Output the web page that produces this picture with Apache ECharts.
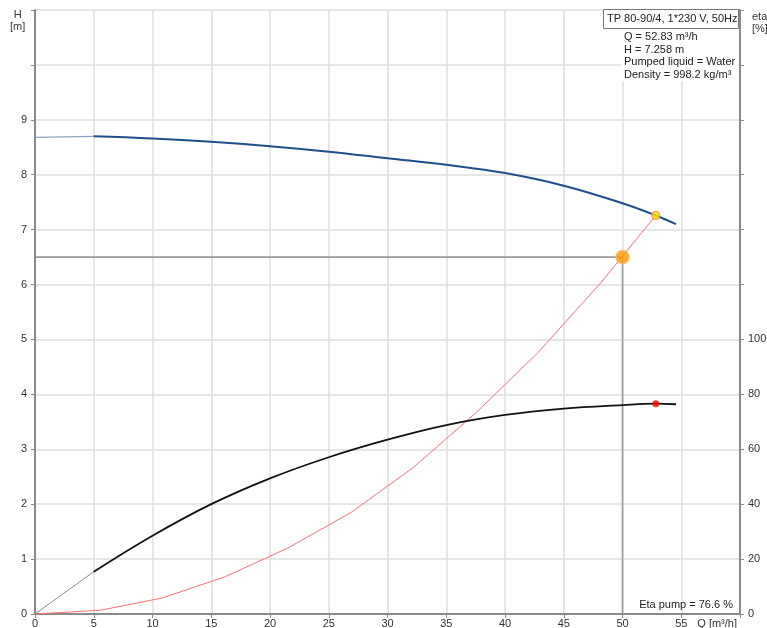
<!DOCTYPE html>
<html>
<head>
<meta charset="utf-8">
<script src="https://cdn.jsdelivr.net/npm/echarts@6/dist/echarts.min.js"></script>
<style>
html,body{margin:0;padding:0;background:#fff;}
#c{width:767px;height:628px;}
</style>
</head>
<body>
<div id="c"></div>
<script>
// ---- data ----
const qPump = [0, 5, 10, 15, 20, 25, 30, 35, 40, 45, 50, 52.83, 54.55];
const headPump = [8.68, 8.70, 8.66, 8.60, 8.52, 8.42, 8.30, 8.18, 8.03, 7.80, 7.48, 7.258, 7.10];
const etaPump = [0, 15.4, 28.5, 40.0, 49.4, 57.1, 63.5, 68.8, 72.5, 74.8, 76.1, 76.6, 76.4];
const qSystem = [0, 5.6, 10.8, 16.2, 21.5, 26.9, 32.2, 37.5, 42.8, 48.1, 52.83];
const headSystem = [0, 0.07, 0.29, 0.68, 1.2, 1.85, 2.67, 3.66, 4.76, 6.02, 7.258];
const dutyPoint = [52.83, 7.258];
const dutyEta = [52.83, 76.6];
const requestedPoint = [50, 6.5];
const xTicksShown = [0, 5, 10, 15, 20, 25, 30, 35, 40, 45, 50, 55];
const hTicksShownMax = 9;
const etaTicksShownMax = 100;
const infoTitle = 'TP 80-90/4, 1*230 V, 50Hz';
const infoLines = ['Q = 52.83 m³/h', 'H = 7.258 m', 'Pumped liquid = Water', 'Density = 998.2 kg/m³'];
const etaText = 'Eta pump = 76.6 %';

const pairs = (xs, ys) => xs.map((x, i) => [x, ys[i]]);
const hAll = pairs(qPump, headPump);
const eAll = pairs(qPump, etaPump);

const font = 'Liberation Sans, Arial, sans-serif';
const axisGray = '#8a8a8a';
const gridGray = '#dedede';

const chart = echarts.init(document.getElementById('c'));
chart.setOption({
  animation: false,
  backgroundColor: '#fff',
  grid: {left: 35, right: 27, top: 10, bottom: 14, containLabel: false, outerBoundsMode: 'none'},
  xAxis: {
    type: 'value', min: 0, max: 60, interval: 5,
    axisLine: {lineStyle: {color: axisGray, width: 2}},
    axisTick: {show: true, length: 4, lineStyle: {color: axisGray}},
    axisLabel: {color: '#333', fontFamily: font, fontSize: 11, margin: 4,
      formatter: v => xTicksShown.includes(v) ? String(v) : ''},
    splitLine: {show: true, lineStyle: {color: gridGray, width: 1.5}},
    name: 'Q [m³/h]', nameLocation: 'end', nameGap: -3,
    nameTextStyle: {color: '#333', fontFamily: font, fontSize: 11, align: 'right', verticalAlign: 'top', padding: [4, 0, 0, 0]}
  },
  yAxis: [{
    type: 'value', min: 0, max: 11, interval: 1,
    axisLine: {show: true, lineStyle: {color: axisGray, width: 2}},
    axisTick: {show: true, length: 4, lineStyle: {color: axisGray}},
    axisLabel: {color: '#333', fontFamily: font, fontSize: 11, margin: 8,
      formatter: v => v <= hTicksShownMax ? String(v) : ''},
    splitLine: {show: true, lineStyle: {color: gridGray, width: 1.5}}
  }, {
    type: 'value', min: 0, max: 220, interval: 20, position: 'right',
    axisLine: {show: true, lineStyle: {color: axisGray, width: 2}},
    axisTick: {show: true, length: 4, lineStyle: {color: axisGray}},
    axisLabel: {color: '#333', fontFamily: font, fontSize: 11, margin: 8,
      formatter: v => v <= etaTicksShownMax ? String(v) : ''},
    splitLine: {show: false}
  }],
  graphic: [
    {type: 'text', left: 10, top: 9, style: {text: 'H\n[m]', fill: '#333', font: '11px ' + font, textAlign: 'center', lineHeight: 12}},
    {type: 'text', left: 752, top: 11, style: {text: 'eta\n[%]', fill: '#333', font: '11px ' + font, lineHeight: 12}},
    {type: 'rect', left: 621, top: 28, shape: {width: 117, height: 53}, style: {fill: '#fff'}, z: 10},
    {type: 'rect', left: 603, top: 9, shape: {width: 135, height: 19}, style: {fill: '#fff', stroke: '#777', lineWidth: 1}, z: 10},
    {type: 'text', left: 607, top: 13, style: {text: infoTitle, fill: '#222', font: '11px ' + font}, z: 11},
    {type: 'text', left: 624, top: 31, style: {text: infoLines.join('\n'), fill: '#222', font: '11px ' + font, lineHeight: 12.5}, z: 11},
    {type: 'text', right: 34, top: 599, style: {text: etaText, fill: '#222', font: '11px ' + font}, z: 11}
  ],
  series: [
    {type: 'line', data: [[0, requestedPoint[1]], requestedPoint, [requestedPoint[0], 0]], symbol: 'none',
      lineStyle: {color: '#999', width: 1.6}, z: 2},
    {type: 'line', data: pairs(qSystem, headSystem), symbol: 'none',
      lineStyle: {color: '#ff7070', width: 1}, z: 3},
    {type: 'line', data: hAll.slice(0, 2), smooth: 0.4, symbol: 'none',
      lineStyle: {color: '#8ea2bb', width: 1.2}, z: 3},
    {type: 'line', data: hAll.slice(1), smooth: 0.4, symbol: 'none',
      lineStyle: {color: '#1f4f8a', width: 2}, z: 4},
    {type: 'line', yAxisIndex: 1, data: eAll.slice(0, 2), symbol: 'none',
      lineStyle: {color: '#8c8c8c', width: 1}, z: 3},
    {type: 'line', yAxisIndex: 1, data: eAll.slice(1), smooth: 0.4, symbol: 'none',
      lineStyle: {color: '#111', width: 1.8}, z: 4},
    {type: 'scatter', data: [requestedPoint], symbolSize: 13,
      itemStyle: {color: '#ff9a00', borderColor: '#ffb35c', borderWidth: 1.5}, z: 6},
    {type: 'scatter', data: [dutyPoint], symbolSize: 8,
      itemStyle: {color: '#ffe000', borderColor: '#ff8a3c', borderWidth: 1.2}, z: 6},
    {type: 'scatter', yAxisIndex: 1, data: [dutyEta], symbolSize: 7,
      itemStyle: {color: '#ff0000'}, z: 6}
  ]
});
</script>
</body>
</html>
